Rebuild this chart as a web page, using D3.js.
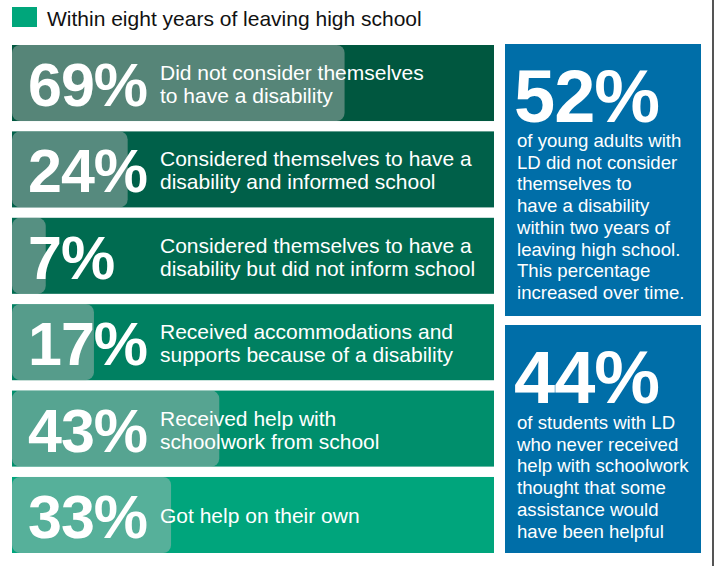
<!DOCTYPE html>
<html>
<head>
<meta charset="utf-8">
<script src="https://cdn.jsdelivr.net/npm/d3@7/dist/d3.min.js"></script>
<style>
  html, body { margin: 0; padding: 0; background: #fff; }
  svg { display: block; font-family: "Liberation Sans", Arial, Helvetica, sans-serif; }
</style>
</head>
<body>
<svg id="chart" width="715" height="566"></svg>
<script>
// ---- data ----
const legendLabel = "Within eight years of leaving high school";
const percents = [69, 24, 7, 17, 43, 33];
const descriptions = [
  ["Did not consider themselves", "to have a disability"],
  ["Considered themselves to have a", "disability and informed school"],
  ["Considered themselves to have a", "disability but did not inform school"],
  ["Received accommodations and", "supports because of a disability"],
  ["Received help with", "schoolwork from school"],
  ["Got help on their own"]
];
const calloutValues = [52, 44];
const calloutTexts = [
  ["of young adults with", "LD did not consider", "themselves to", "have a disability", "within two years of", "leaving high school.", "This percentage", "increased over time."],
  ["of students with LD", "who never received", "help with schoolwork", "thought that some", "assistance would", "have been helpful"]
];

// ---- styles ----
const barColors = ["#00573f", "#006049", "#006b50", "#008061", "#008f6c", "#00a57c"];
const blue = "#006ea8";

const svg = d3.select("#chart");

// right frame line
svg.append("rect").attr("x", 712).attr("y", 0).attr("width", 2).attr("height", 566).attr("fill", "#555");

// legend
svg.append("rect").attr("x", 12).attr("y", 7).attr("width", 25).attr("height", 20).attr("fill", "#00a67b");
svg.append("text").attr("x", 47).attr("y", 26).attr("font-size", 21).attr("fill", "#111").text(legendLabel);

// scales
const x = d3.scaleLinear().domain([0, 100]).range([12, 494]);
const y = d3.scaleBand().domain(d3.range(percents.length)).range([45, 553]).paddingInner(0.12).paddingOuter(0);

const rows = svg.selectAll("g.row").data(percents).join("g").attr("class", "row")
  .attr("transform", (d, i) => `translate(0,${y(i)})`);

rows.append("rect")
  .attr("x", x(0)).attr("y", 0)
  .attr("width", x(100) - x(0)).attr("height", y.bandwidth())
  .attr("fill", (d, i) => barColors[i]);

rows.append("rect")
  .attr("x", x(0)).attr("y", 0)
  .attr("width", d => x(d) - x(0)).attr("height", y.bandwidth())
  .attr("rx", 8).attr("ry", 8)
  .attr("fill", "#bebebe").attr("fill-opacity", 0.45);

rows.append("text")
  .attr("x", 28).attr("y", 61)
  .attr("font-size", 61).attr("font-weight", "bold").attr("fill", "#fff")
  .attr("letter-spacing", -1)
  .text(d => d + "%");

rows.each(function(d, i) {
  const lines = descriptions[i];
  const g = d3.select(this);
  const base = lines.length === 1 ? [46] : [35, 58];
  lines.forEach((ln, j) => {
    g.append("text").attr("x", 160).attr("y", base[j])
      .attr("font-size", 21).attr("fill", "#fff").text(ln);
  });
});

// callouts
const boxes = [
  { y: 44, h: 272, num: 122, first: 147 },
  { y: 325, h: 228, num: 403, first: 429 }
];
boxes.forEach((b, i) => {
  svg.append("rect").attr("x", 505).attr("y", b.y).attr("width", 196).attr("height", b.h).attr("fill", blue);
  svg.append("text").attr("x", 514).attr("y", b.num)
    .attr("font-size", 74).attr("font-weight", "bold").attr("fill", "#fff")
    .attr("letter-spacing", -1)
    .text(calloutValues[i] + "%");
  calloutTexts[i].forEach((ln, j) => {
    svg.append("text").attr("x", 517).attr("y", b.first + j * 21.7)
      .attr("font-size", 18.6).attr("fill", "#fff").text(ln);
  });
});
</script>
</body>
</html>
